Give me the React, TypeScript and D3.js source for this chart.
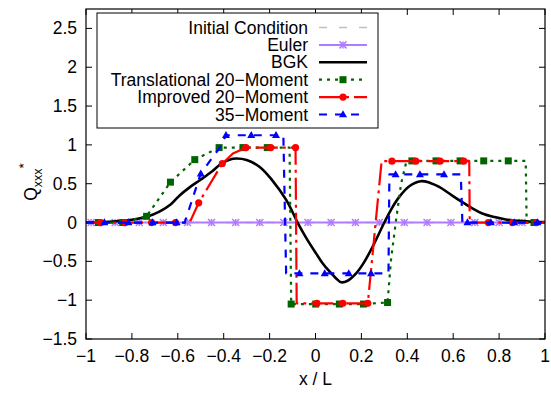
import React from "react";
import * as d3 from "d3";

// ---------- data ----------
const xTicks = [-1, -0.8, -0.6, -0.4, -0.2, 0, 0.2, 0.4, 0.6, 0.8, 1];
const yTicks = [-1.5, -1, -0.5, 0, 0.5, 1, 1.5, 2, 2.5];

const initX = [-1, 1];
const initY = [0, 0];

const eulerX = [-1, 1];
const eulerY = [0, 0];
const eulerMarkX = [-0.978, -0.873, -0.768, -0.663, -0.558, -0.453, -0.348, -0.243, -0.138, -0.033, 0.068, 0.174, 0.278, 0.387, 0.486, 0.59, 0.694, 0.8, 0.9];
const eulerMarkY = eulerMarkX.map(() => 0);

const bgkX = [-1, -0.9, -0.8, -0.736, -0.68, -0.63, -0.591, -0.55, -0.504, -0.45, -0.41, -0.375, -0.345, -0.3, -0.243, -0.19, -0.127, -0.078, -0.04, 0.003, 0.03, 0.061, 0.09, 0.112, 0.14, 0.177, 0.21, 0.249, 0.3, 0.33, 0.365, 0.41, 0.459, 0.5, 0.539, 0.58, 0.626, 0.68, 0.727, 0.78, 0.829, 0.9, 0.945, 1];
const bgkY = [0.003, 0.01, 0.035, 0.073, 0.14, 0.235, 0.352, 0.45, 0.545, 0.66, 0.76, 0.81, 0.824, 0.805, 0.716, 0.55, 0.288, 0.0, -0.2, -0.4, -0.52, -0.63, -0.72, -0.77, -0.75, -0.655, -0.52, -0.31, 0.0, 0.17, 0.33, 0.47, 0.532, 0.51, 0.46, 0.38, 0.288, 0.19, 0.117, 0.07, 0.04, 0.018, 0.01, 0.005];

const transX = [-1, -0.946, -0.84, -0.736, -0.632, -0.526, -0.42, -0.316, -0.21, -0.113, -0.106, 0.001, 0.104, 0.209, 0.314, 0.329, 0.351, 0.373, 0.394, 0.42, 0.525, 0.63, 0.733, 0.84, 0.916, 0.92, 0.952, 1];
const transY = [0, 0, 0, 0.08, 0.52, 0.81, 0.965, 0.965, 0.965, 0.965, -1.05, -1.05, -1.05, -1.05, -1.03, -0.48, 0.03, 0.5, 0.76, 0.794, 0.794, 0.794, 0.794, 0.794, 0.794, 0, 0, 0];
const transMarkX = [-0.946, -0.84, -0.736, -0.632, -0.526, -0.42, -0.316, -0.21, -0.106, 0.001, 0.104, 0.209, 0.314, 0.42, 0.525, 0.63, 0.733, 0.84, 0.952];
const transMarkY = [0, 0, 0.08, 0.52, 0.81, 0.965, 0.965, 0.965, -1.05, -1.05, -1.05, -1.05, -1.03, 0.794, 0.794, 0.794, 0.794, 0.794, 0];

const impX = [-1, -0.936, -0.83, -0.714, -0.61, -0.548, -0.509, -0.406, -0.36, -0.303, -0.195, -0.087, -0.082, 0.006, 0.119, 0.228, 0.288, 0.333, 0.437, 0.543, 0.646, 0.67, 0.672, 0.753, 0.858, 0.962, 1];
const impY = [0, 0, 0, 0, 0, 0, 0.254, 0.76, 0.89, 0.965, 0.965, 0.965, -1.04, -1.04, -1.04, -1.04, 0.79, 0.79, 0.79, 0.79, 0.79, 0.79, 0, 0, 0, 0, 0];
const impMarkX = [-0.936, -0.83, -0.714, -0.61, -0.509, -0.406, -0.303, -0.195, -0.087, 0.006, 0.119, 0.228, 0.333, 0.437, 0.543, 0.646, 0.753, 0.858, 0.962];
const impMarkY = [0, 0, 0, 0, 0.254, 0.76, 0.965, 0.965, 0.965, -1.04, -1.04, -1.04, 0.79, 0.79, 0.79, 0.79, 0, 0, 0];

const m35X = [-1, -0.57, -0.5, -0.417, -0.39, -0.28, -0.172, -0.14, -0.128, -0.07, 0.04, 0.145, 0.242, 0.318, 0.322, 0.349, 0.455, 0.56, 0.633, 0.64, 0.662, 0.764, 0.866, 0.967, 1];
const m35Y = [0, 0, 0.63, 0.966, 1.124, 1.124, 1.124, 1.124, -0.655, -0.655, -0.655, -0.655, -0.655, -0.655, 0.62, 0.62, 0.62, 0.62, 0.62, 0, 0, 0, 0, 0, 0];
const m35MarkX = [-0.92, -0.815, -0.71, -0.605, -0.5, -0.39, -0.28, -0.172, -0.07, 0.04, 0.145, 0.242, 0.349, 0.455, 0.56, 0.662, 0.764, 0.866, 0.967];
const m35MarkY = [0, 0, 0, 0, 0.63, 1.124, 1.124, 1.124, -0.655, -0.655, -0.655, -0.655, 0.62, 0.62, 0.62, 0, 0, 0, 0];

const legendLabels = ["Initial Condition", "Euler", "BGK", "Translational 20\u2212Moment", "Improved 20\u2212Moment", "35\u2212Moment"];

// ---------- layout ----------
const W = 551, H = 394;
const L = 86, R = 545, T = 9, B = 339;
const FONT = "'Liberation Sans', Arial, Helvetica, sans-serif";
const FS = 17.5;

const x = d3.scaleLinear().domain([-1, 1]).range([L, R]);
const y = d3.scaleLinear().domain([-1.5, 2.75]).range([B, T]);

const zip = (xs: number[], ys: number[]) => xs.map((v, i) => [v, ys[i]] as [number, number]);
const lineGen = d3.line<[number, number]>().x(d => x(d[0])).y(d => y(d[1]));
const smoothGen = d3.line<[number, number]>().x(d => x(d[0])).y(d => y(d[1])).curve(d3.curveCatmullRom.alpha(0.5));

const fmt = (v: number) => (v < 0 ? "\u2212" + String(Math.abs(v)) : String(v));

type Mk = "star" | "square" | "circle" | "tri" | "none";

function Marker({ cx, cy, type, color }: { cx: number; cy: number; type: Mk; color: string }) {
  if (type === "star") {
    const s = 3.5;
    return (
      <g stroke={color} strokeWidth={1.5}>
        <line x1={cx - s} y1={cy} x2={cx + s} y2={cy} />
        <line x1={cx} y1={cy - s} x2={cx} y2={cy + s} />
        <line x1={cx - s} y1={cy - s} x2={cx + s} y2={cy + s} />
        <line x1={cx - s} y1={cy + s} x2={cx + s} y2={cy - s} />
      </g>
    );
  }
  if (type === "square") return <rect x={cx - 3.5} y={cy - 3.5} width={7} height={7} fill={color} />;
  if (type === "circle") return <circle cx={cx} cy={cy} r={3.6} fill={color} />;
  if (type === "tri") return <path d={`M${cx},${cy - 4.2}L${cx + 4},${cy + 2.8}L${cx - 4},${cy + 2.8}Z`} fill={color} />;
  return null;
}

const series = [
  { label: legendLabels[0], lx: initX, ly: initY, mx: [] as number[], my: [] as number[], color: "#c0c0c0", width: 1.5, dash: "8,12", mk: "none" as Mk, smooth: false },
  { label: legendLabels[1], lx: eulerX, ly: eulerY, mx: eulerMarkX, my: eulerMarkY, color: "#b07cff", width: 2, dash: undefined, mk: "star" as Mk, smooth: false },
  { label: legendLabels[2], lx: bgkX, ly: bgkY, mx: [] as number[], my: [] as number[], color: "#000000", width: 2.6, dash: undefined, mk: "none" as Mk, smooth: true },
  { label: legendLabels[3], lx: transX, ly: transY, mx: transMarkX, my: transMarkY, color: "#006400", width: 2.2, dash: "3,5", mk: "square" as Mk, smooth: false },
  { label: legendLabels[4], lx: impX, ly: impY, mx: impMarkX, my: impMarkY, color: "#ff0000", width: 2.2, dash: "22,5,3,5", mk: "circle" as Mk, smooth: false },
  { label: legendLabels[5], lx: m35X, ly: m35Y, mx: m35MarkX, my: m35MarkY, color: "#0000ff", width: 2.2, dash: "8,8", mk: "tri" as Mk, smooth: false },
];

export default function App() {
  const tick = 6;
  const legX0 = 97, legY0 = 13, legX1 = 378, legY1 = 128;
  const rowY = (i: number) => 27.5 + i * 17.4;
  return (
    <svg width={W} height={H} style={{ position: "absolute", left: 0, top: 0, background: "#fff" }} fontFamily={FONT}>
      <rect x={0} y={0} width={W} height={H} fill="#fff" />
      <defs>
        <clipPath id="plotclip">
          <rect x={L} y={T} width={R - L} height={B - T} />
        </clipPath>
      </defs>
      {/* ticks */}
      <g stroke="#000" strokeWidth={1}>
        {xTicks.map(t => (
          <g key={"xt" + t}>
            <line x1={x(t)} x2={x(t)} y1={B} y2={B - tick} />
            <line x1={x(t)} x2={x(t)} y1={T} y2={T + tick} />
          </g>
        ))}
        {yTicks.map(t => (
          <g key={"yt" + t}>
            <line x1={L} x2={L + tick} y1={y(t)} y2={y(t)} />
            <line x1={R} x2={R - tick} y1={y(t)} y2={y(t)} />
          </g>
        ))}
      </g>
      {/* tick labels */}
      <g fontSize={FS} fill="#000">
        {xTicks.map(t => (
          <text key={"xl" + t} x={x(t)} y={B + 23} textAnchor="middle">{fmt(t)}</text>
        ))}
        {yTicks.map(t => (
          <text key={"yl" + t} x={L - 9} y={y(t) + 6} textAnchor="end">{fmt(t)}</text>
        ))}
      </g>
      {/* axis labels */}
      <text x={(L + R) / 2} y={385} textAnchor="middle" fontSize={FS}>x / L</text>
      <text transform={`translate(37,182) rotate(-90)`} textAnchor="middle" fontSize={FS}>
        Q<tspan fontSize={12.5} dy={5}>xxx</tspan><tspan fontSize={13.5} dy={-14}>*</tspan>
      </text>
      {/* data */}
      <g clipPath="url(#plotclip)">
        {series.map((s, i) => {
          const pts = zip(s.lx, s.ly);
          const d = (s.smooth ? smoothGen : lineGen)(pts) || "";
          return (
            <g key={"s" + i}>
              <path d={d} fill="none" stroke={s.color} strokeWidth={s.width} strokeDasharray={s.dash} strokeLinejoin="round" />
              {s.mx.map((mxv, j) => (
                <Marker key={j} cx={x(mxv)} cy={y(s.my[j])} type={s.mk} color={s.color} />
              ))}
            </g>
          );
        })}
      </g>
      {/* frame */}
      <rect x={L} y={T} width={R - L} height={B - T} fill="none" stroke="#000" strokeWidth={1.2} />
      {/* legend */}
      <rect x={legX0} y={legY0} width={legX1 - legX0} height={legY1 - legY0} fill="#fff" stroke="#000" strokeWidth={1} />
      {series.map((s, i) => (
        <g key={"lg" + i}>
          <text x={308} y={rowY(i) + 6} textAnchor="end" fontSize={FS}>{s.label}</text>
          <line x1={319} x2={367} y1={rowY(i)} y2={rowY(i)} stroke={s.color} strokeWidth={s.width} strokeDasharray={s.dash} />
          <Marker cx={343} cy={rowY(i)} type={s.mk} color={s.color} />
        </g>
      ))}
    </svg>
  );
}
